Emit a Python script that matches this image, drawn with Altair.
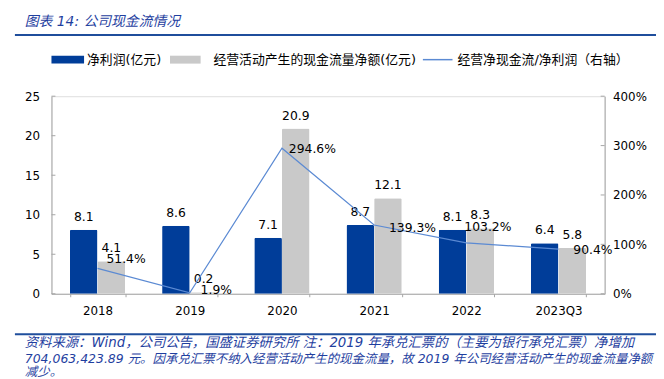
import altair as alt
import pandas as pd

categories = ["2018", "2019", "2020", "2021", "2022", "2023Q3"]
net_profit = [8.1, 8.6, 7.1, 8.7, 8.1, 6.4]
op_cash = [4.1, 0.2, 20.9, 12.1, 8.3, 5.8]
ratio = [51.4, 1.9, 294.6, 139.3, 103.2, 90.4]
series_names = ["净利润(亿元)", "经营活动产生的现金流量净额(亿元)"]
line_name = "经营净现金流/净利润（右轴）"
left_ticks = [0, 5, 10, 15, 20, 25]
right_ticks = [0, 100, 200, 300, 400]
title_text = "图表 14:  公司现金流情况"
footer_lines = [
    "资料来源：Wind，公司公告，国盛证券研究所  注：2019  年承兑汇票的（主要为银行承兑汇票）净增加",
    "704,063,423.89 元。因承兑汇票不纳入经营活动产生的现金流量，故 2019 年公司经营活动产生的现金流量净额",
    "减少。",
]

BLUE = "#003D99"
GRAY = "#C9C9C9"
LINE = "#5B8AD3"
AX = "#A6A6A6"
TXT_BLUE = "#1F3F9F"
CJK = "Noto Sans CJK SC"
NUM = "DejaVu Sans"
W, H = 560, 200

rows = []
for i, c in enumerate(categories):
    rows.append({"cat": c, "series": series_names[0], "value": net_profit[i]})
    rows.append({"cat": c, "series": series_names[1], "value": op_cash[i]})
bars_df = pd.DataFrame(rows)
line_df = pd.DataFrame({"cat": categories, "ratio": ratio,
                        "label": [f"{r:.1f}%" for r in ratio]})

xscale = alt.Scale(domain=categories, paddingInner=0.4, paddingOuter=0.2)
xaxis = alt.Axis(title=None, labelFontSize=12, labelFont=NUM, labelColor="#000",
                 domainColor=AX, tickColor=AX, tickSize=3, tickBand="extent",
                 labelPadding=9, labelAngle=0)
X = alt.X("cat:N", sort=categories, scale=xscale, axis=xaxis)
yl = alt.Scale(domain=[0, 25])
yr = alt.Scale(domain=[0, 400])
yl_axis = alt.Axis(orient="left", values=left_ticks, title=None, grid=False,
                   labelFontSize=12, labelFont=NUM, labelColor="#000",
                   domainColor=AX, ticks=False, labelPadding=12)
yr_axis = alt.Axis(orient="right", values=right_ticks, title=None, grid=False,
                   labelExpr="datum.value + '%'", labelFontSize=12, labelFont=NUM,
                   labelColor="#000", domainColor=AX, ticks=False, labelPadding=8)
XO = alt.XOffset("series:N", sort=series_names, scale=alt.Scale(paddingInner=0, paddingOuter=0))

bars = alt.Chart(bars_df).mark_bar(cornerRadiusTopLeft=1.5, cornerRadiusTopRight=1.5).encode(
    x=X,
    xOffset=XO,
    y=alt.Y("value:Q", scale=yl, axis=yl_axis),
    color=alt.Color("series:N", sort=series_names,
                    scale=alt.Scale(domain=series_names, range=[BLUE, GRAY]), legend=None),
)
bar_text = alt.Chart(bars_df).mark_text(font=NUM, fontSize=12.5, baseline="middle", dy=-13, color="#000").encode(
    x=X,
    xOffset=XO,
    y=alt.Y("value:Q", scale=yl, axis=yl_axis),
    text=alt.Text("value:Q", format=".1f"),
)
lticks = alt.Chart(pd.DataFrame({"v": left_ticks})).mark_rule(color=AX, strokeWidth=1).encode(
    y=alt.Y("v:Q", scale=yl, axis=yl_axis), x=alt.value(0), x2=alt.value(4))

left_layer = alt.layer(bars, bar_text, lticks)

line = alt.Chart(line_df).mark_line(color=LINE, strokeWidth=1.2).encode(
    x=X,
    y=alt.Y("ratio:Q", scale=yr, axis=yr_axis),
)
offsets = {"2018": (9, -9), "2019": (11, -3), "2020": (7, 1), "2021": (15, 3),
           "2022": (-2, -16), "2023Q3": (15, 1)}
line_texts = []
for c, (dx, dy) in offsets.items():
    line_texts.append(
        alt.Chart(line_df).transform_filter(alt.datum.cat == c)
        .mark_text(font=NUM, fontSize=12.5, align="left", baseline="middle", dx=dx, dy=dy, color="#000")
        .encode(x=X,
                y=alt.Y("ratio:Q", scale=yr, axis=yr_axis),
                text="label:N"))
rticks = alt.Chart(pd.DataFrame({"v": right_ticks})).mark_rule(color=AX, strokeWidth=1).encode(
    y=alt.Y("v:Q", scale=yr, axis=yr_axis), x=alt.value(W - 4), x2=alt.value(W))

right_layer = alt.layer(line, *line_texts, rticks)

main = alt.layer(left_layer, right_layer).resolve_scale(y="independent")

one = alt.Data(values=[{"k": 1}])

def txt(s, x, y, size, color, font, style="normal", align="left"):
    return alt.Chart(one).mark_text(text=s, fontSize=size, color=color, font=font, fontStyle=style,
                                    align=align, baseline="middle").encode(
        x=alt.value(x), y=alt.value(y))

def rect(x, x2, y, y2, color):
    return alt.Chart(one).mark_rect(color=color).encode(
        x=alt.value(x), x2=alt.value(x2), y=alt.value(y), y2=alt.value(y2))

def rule(x, x2, y, color, w):
    return alt.Chart(one).mark_rule(color=color, strokeWidth=w).encode(
        x=alt.value(x), x2=alt.value(x2), y=alt.value(y))

FF = f"{NUM}, {CJK}"
deco = [
    txt(title_text, -27, -75, 14, TXT_BLUE, FF, "italic"),
    rule(-37, 612, -62, "#1F4E9C", 2),
    rect(0, 33, -41, -33, BLUE),
    txt(series_names[0], 36, -37, 13, "#000", FF),
    rect(120, 151, -41, -33, GRAY),
    txt(series_names[1], 164, -37, 13, "#000", FF),
    rule(376, 406, -37, LINE, 1.5),
    txt(line_name, 411, -37, 13, "#000", FF),
    rule(-37, 612, 241, "#1F4E9C", 2),
    txt(footer_lines[0], -27, 250, 13.5, TXT_BLUE, FF, "italic"),
    txt(footer_lines[1], -27, 266, 12.6, TXT_BLUE, FF, "italic"),
    txt(footer_lines[2], -27, 279, 12.6, TXT_BLUE, FF, "italic"),
]

chart = alt.layer(main, *deco).properties(
    width=W, height=H,
    padding={"left": 44, "top": 87, "right": 52, "bottom": 84},
    autosize=alt.AutoSizeParams(type="none"),
).configure_view(stroke=None).configure(background="white")

chart.save("out.html", embed_options={"renderer": "svg", "actions": False})
